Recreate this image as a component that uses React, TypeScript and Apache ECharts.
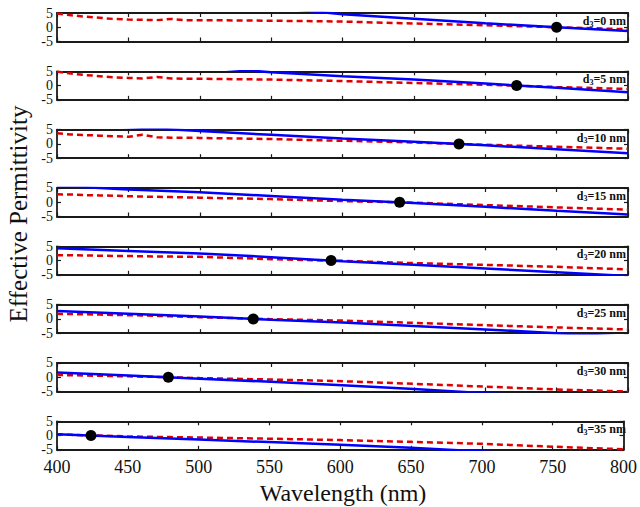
import React, { useEffect, useRef } from "react";
import * as echarts from "echarts";

const thicknessLabels = ["0", "5", "10", "15", "20", "25", "30", "35"];
const xTicks = [400, 450, 500, 550, 600, 650, 700, 750, 800];
const yTicks = [-5, 0, 5];

const blueWavelengths = [400, 450, 500, 550, 600, 650, 700, 750, 800];
const blue0 = [14, 11.5, 9, 7, 4.6, 3.0, 1.4, 0, -1.3];
const blue5 = [10, 8.3, 6.6, 4.7, 3.3, 2.1, 0.7, -0.8, -2.3];
const blue10 = [7.2, 5.9, 4.5, 3.2, 1.9, 0.8, -0.5, -1.9, -3.3];
const blue15 = [5.8, 4.5, 3.5, 2.2, 0.9, -0.3, -1.6, -3.0, -4.3];
const blue20 = [4.3, 3.4, 2.5, 1.2, -0.2, -1.5, -2.8, -4.1, -5.4];
const blue25 = [2.8, 1.8, 0.8, -0.3, -1.3, -2.5, -3.7, -5.0, -6.3];
const blue30 = [1.7, 0.6, -0.5, -1.6, -2.8, -4.1, -5.6, -7.0, -8.5];
const blue35 = [0.5, -0.5, -1.4, -2.3, -3.2, -4.3, -5.6, -7.0, -8.5];

const redWavelengths = [400, 410, 420, 430, 440, 450, 460, 470, 480, 490, 500, 550, 600, 650, 700, 750, 800];
const red0 = [4.8, 4.2, 3.7, 3.3, 2.9, 2.7, 2.6, 2.5, 2.9, 2.5, 2.5, 2.3, 2.0, 1.3, 0.7, 0.0, -0.7];
const red5 = [4.9, 4.2, 3.7, 3.3, 2.9, 2.7, 2.5, 3.0, 2.5, 2.4, 2.4, 2.1, 1.6, 0.9, 0.3, -0.5, -1.2];
const red10 = [3.7, 3.3, 3.1, 2.9, 2.7, 2.5, 3.2, 2.3, 2.2, 2.2, 2.1, 1.7, 1.1, 0.5, -0.3, -1.0, -1.7];
const red15 = [2.8, 2.7, 2.5, 2.4, 2.3, 2.1, 2.0, 1.9, 1.8, 1.7, 1.6, 1.1, 0.4, -0.15, -1.0, -1.8, -2.6];
const red20 = [1.9, 1.85, 1.8, 1.7, 1.6, 1.6, 1.5, 1.45, 1.4, 1.35, 1.3, 0.5, -0.1, -0.9, -1.5, -2.2, -3.1];
const red25 = [1.8, 1.7, 1.6, 1.5, 1.4, 1.3, 1.2, 1.05, 0.9, 0.75, 0.6, -0.1, -0.6, -1.4, -2.2, -3.0, -3.7];
const red30 = [0.8, 0.7, 0.6, 0.5, 0.4, 0.3, 0.2, 0.1, 0.0, -0.15, -0.3, -0.8, -1.4, -2.3, -3.3, -4.3, -5.0];
const red35 = [0.4, 0.25, 0.1, 0.0, -0.15, -0.3, -0.38, -0.46, -0.54, -0.62, -0.7, -1.1, -1.6, -2.2, -2.9, -3.9, -4.8];

const crossWavelengths = [750, 722, 681.6, 640, 592, 537.5, 478, 424];
const crossValues = [0, 0, 0, 0, 0, 0, 0, 0];

const blueSets = [blue0, blue5, blue10, blue15, blue20, blue25, blue30, blue35];
const redSets = [red0, red5, red10, red15, red20, red25, red30, red35];

const FONT = "'Liberation Serif', 'Times New Roman', serif";

export default function App() {
  const ref = useRef<HTMLDivElement>(null);
  useEffect(() => {
    if (!ref.current) return;
    const chart = echarts.init(ref.current, undefined, { renderer: "svg" });
    const n = 8;
    const top0 = 13;
    const pitch = 58.33;
    const h = 28.5;
    const left = 57;
    const right = 12;
    const grids: any[] = [];
    const xAxes: any[] = [];
    const yAxes: any[] = [];
    const series: any[] = [];
    const graphics: any[] = [];
    const lineCol = "#1a1a1a";
    const frameLine = { show: true, onZero: false, lineStyle: { color: lineCol, width: 1.8 } };
    const innerTick = { show: true, inside: true, length: 4, lineStyle: { color: lineCol, width: 1.2 } };
    const yLabel = { show: true, color: "#111", fontFamily: FONT, fontSize: 14, lineHeight: 14, margin: 4, showMinLabel: true, showMaxLabel: true, hideOverlap: false };
    for (let i = 0; i < n; i++) {
      const top = top0 + i * pitch;
      grids.push({ left, right, top, height: h, containLabel: false });
      xAxes.push({
        type: "value", gridIndex: i, min: xTicks[0], max: xTicks[xTicks.length - 1], interval: 50, position: "bottom",
        axisLine: frameLine, axisTick: innerTick,
        axisLabel: { show: i === n - 1, color: "#111", fontFamily: FONT, fontSize: 18, margin: 8 },
        splitLine: { show: false },
      });
      xAxes.push({
        type: "value", gridIndex: i, min: xTicks[0], max: xTicks[xTicks.length - 1], interval: 50, position: "top",
        axisLine: frameLine, axisTick: innerTick,
        axisLabel: { show: false }, splitLine: { show: false },
      });
      yAxes.push({
        type: "value", gridIndex: i, min: yTicks[0], max: yTicks[2], interval: 5, position: "left",
        axisLine: frameLine, axisTick: innerTick,
        axisLabel: { ...yLabel, formatter: (v: number) => (v === 0 ? "" : String(v)) },
        splitLine: { show: false },
      });
      yAxes.push({
        type: "value", gridIndex: i, min: yTicks[0], max: yTicks[2], interval: 5, position: "left",
        axisLine: { show: false }, axisTick: { show: false },
        axisLabel: { ...yLabel, formatter: (v: number) => (v === 0 ? "0" : "") },
        splitLine: { show: false },
      });
      yAxes.push({
        type: "value", gridIndex: i, min: yTicks[0], max: yTicks[2], interval: 5, position: "right",
        axisLine: frameLine, axisTick: innerTick,
        axisLabel: { show: false }, splitLine: { show: false },
      });
    }
    for (let i = 0; i < n; i++) {
      series.push({
        type: "line", xAxisIndex: 2 * i, yAxisIndex: 3 * i, clip: true, symbol: "none", smooth: false,
        data: blueWavelengths.map((w, k) => [w, blueSets[i][k]]),
        lineStyle: { color: "#0000ff", width: 2.5 }, z: 3,
      });
      series.push({
        type: "line", xAxisIndex: 2 * i, yAxisIndex: 3 * i, clip: true, symbol: "none",
        data: redWavelengths.map((w, k) => [w, redSets[i][k]]),
        lineStyle: { color: "#e00000", width: 2.5, type: [6, 4] }, z: 2,
      });
      series.push({
        type: "scatter", xAxisIndex: 2 * i, yAxisIndex: 3 * i, symbol: "circle", symbolSize: 11,
        data: [[crossWavelengths[i], crossValues[i]]],
        itemStyle: { color: "#000", opacity: 1 }, z: 5,
      });
      const top = top0 + i * pitch;
      graphics.push({
        type: "text", right: 14, top: top + 1,
        style: {
          text: `{a|d}{s|3}{a|=${thicknessLabels[i]} nm}`,
          rich: {
            a: { fontFamily: FONT, fontWeight: "bold", fontSize: 12, fill: "#111", lineHeight: 14 },
            s: { fontFamily: FONT, fontWeight: "bold", fontSize: 8, fill: "#111", verticalAlign: "bottom", padding: [6, 0, 0, 0], lineHeight: 14 },
          },
        },
        z: 10,
      });
    }
    graphics.push({
      type: "text", x: 343, y: 493,
      style: { text: "Wavelength (nm)", fontFamily: FONT, fontSize: 24, fill: "#111", align: "center", verticalAlign: "middle" },
    });
    graphics.push({
      type: "text", x: 18, y: 214, rotation: Math.PI / 2,
      style: { text: "Effective Permittivity", fontFamily: FONT, fontSize: 25, fill: "#111", align: "center", verticalAlign: "middle" },
    });
    chart.setOption({
      animation: false,
      backgroundColor: "#fff",
      grid: grids,
      xAxis: xAxes,
      yAxis: yAxes,
      series,
      graphic: graphics,
    });
    return () => chart.dispose();
  }, []);
  return <div ref={ref} style={{ width: 640, height: 507, position: "absolute", left: 0, top: 0 }} />;
}
